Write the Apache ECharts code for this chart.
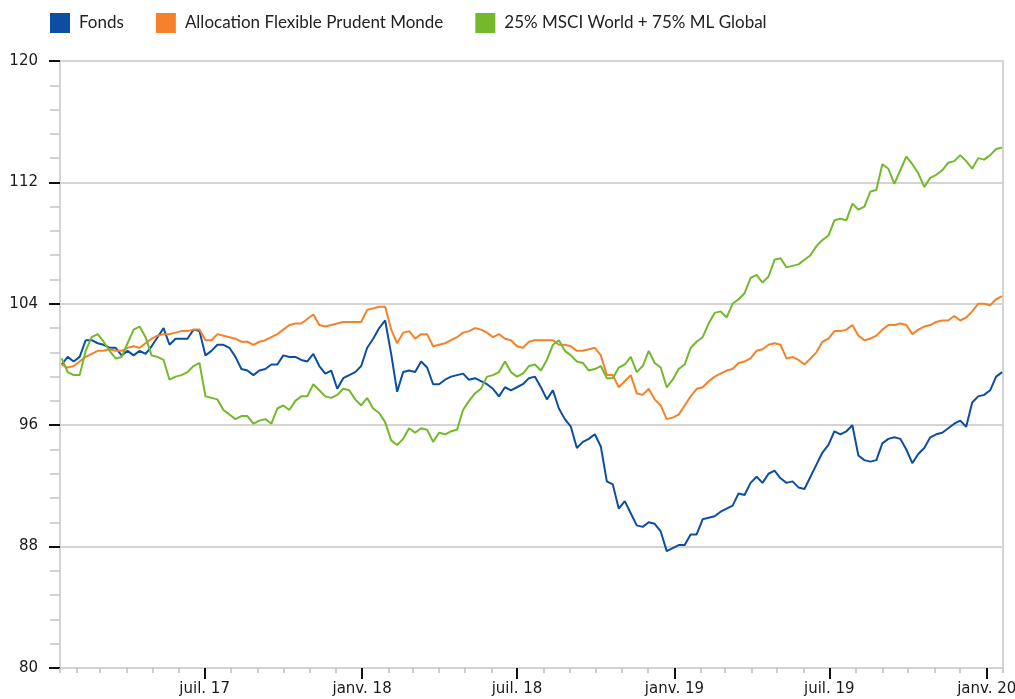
<!DOCTYPE html>
<html>
<head>
<meta charset="utf-8">
<title>Performance</title>
<script src="https://cdn.jsdelivr.net/npm/echarts/dist/echarts.min.js"></script>
<style>
html, body { margin: 0; padding: 0; background: #fff; }
#chart { width: 1015px; height: 699px; }
</style>
</head>
<body>
<div id="chart"></div>
<script>
var seriesNames = ['Fonds', 'Allocation Flexible Prudent Monde', '25% MSCI World + 75% ML Global'];
var seriesColors = ['#0c4ea2', '#f5822a', '#74b82b'];

// une valeur par semaine, a partir du 15/01/2017
var firstDate = '2017-01-15';
var axisStart = '2017-01-13';
var axisEnd = '2020-01-20';

var fondsValues = [
  100.0, 100.5, 100.2, 100.5, 101.6, 101.6, 101.4, 101.3, 101.1, 101.1, 100.6, 100.9, 100.6, 100.9, 100.7, 101.2, 101.8, 102.4, 101.3, 101.7,
  101.7, 101.7, 102.3, 102.2, 100.6, 100.9, 101.3, 101.3, 101.1, 100.5, 99.7, 99.6, 99.3, 99.6, 99.7, 100.0, 100.0, 100.6, 100.5,
  100.5, 100.3, 100.2, 100.7, 99.9, 99.4, 99.6, 98.4, 99.1, 99.3, 99.5, 99.9, 101.1, 101.7, 102.4, 102.9, 100.7, 98.2, 99.5, 99.6,
  99.5, 100.2, 99.8, 98.7, 98.7, 99.0, 99.2, 99.3, 99.4, 99.0, 99.1, 98.9, 98.7, 98.4, 97.9, 98.5, 98.3, 98.5, 98.7, 99.1,
  99.2, 98.5, 97.7, 98.3, 97.1, 96.4, 95.9, 94.5, 94.9, 95.1, 95.4, 94.6, 92.3, 92.1, 90.5, 91.0, 90.2, 89.4, 89.3, 89.6,
  89.5, 89.0, 87.7, 87.9, 88.1, 88.1, 88.8, 88.8, 89.8, 89.9, 90.0, 90.3, 90.5, 90.7, 91.5, 91.4, 92.2, 92.6, 92.2,
  92.8, 93.0, 92.5, 92.2, 92.3, 91.9, 91.8, 92.6, 93.4, 94.2, 94.7, 95.6, 95.4, 95.6, 96.0, 94.0, 93.7, 93.6, 93.7, 94.8,
  95.1, 95.2, 95.1, 94.4, 93.5, 94.1, 94.5, 95.2, 95.4, 95.5, 95.8, 96.1, 96.3, 95.9, 97.5, 97.9, 98.0, 98.3, 99.2, 99.5
];
var allocationValues = [
  100.0, 99.8, 99.9, 100.2, 100.5, 100.7, 100.9, 100.9, 101.0, 100.9, 100.9, 101.1, 101.2, 101.1, 101.4, 101.7, 101.9, 102.0, 102.0, 102.1,
  102.2, 102.2, 102.3, 102.3, 101.6, 101.6, 102.0, 101.9, 101.8, 101.7, 101.5, 101.5, 101.3, 101.5, 101.6, 101.8, 102.0, 102.3, 102.6,
  102.7, 102.7, 103.0, 103.3, 102.6, 102.5, 102.6, 102.7, 102.8, 102.8, 102.8, 102.8, 103.6, 103.7, 103.8, 103.8, 102.3, 101.4, 102.1, 102.2,
  101.7, 102.0, 102.0, 101.2, 101.3, 101.4, 101.6, 101.8, 102.1, 102.2, 102.4, 102.3, 102.1, 101.8, 102.0, 101.7, 101.6, 101.2, 101.1, 101.5,
  101.6, 101.6, 101.6, 101.6, 101.3, 101.3, 101.2, 100.9, 100.9, 101.0, 101.1, 100.6, 99.3, 99.3, 98.5, 98.9, 99.3, 98.1, 98.0, 98.4,
  97.7, 97.3, 96.4, 96.5, 96.7, 97.3, 97.9, 98.4, 98.5, 98.9, 99.2, 99.4, 99.6, 99.7, 100.1, 100.2, 100.4, 100.9, 101.0,
  101.3, 101.4, 101.3, 100.4, 100.5, 100.3, 100.0, 100.4, 100.8, 101.5, 101.7, 102.2, 102.2, 102.3, 102.6, 101.9, 101.6, 101.7, 101.9, 102.3,
  102.6, 102.6, 102.7, 102.6, 102.0, 102.3, 102.5, 102.6, 102.8, 102.9, 102.9, 103.2, 102.9, 103.1, 103.5, 104.0, 104.0, 103.9, 104.3, 104.5
];
var indiceValues = [
  100.4, 99.5, 99.3, 99.3, 100.9, 101.8, 102.0, 101.5, 100.9, 100.4, 100.5, 101.4, 102.3, 102.5, 101.8, 100.6, 100.5, 100.3, 99.0, 99.2,
  99.3, 99.5, 99.9, 100.1, 97.9, 97.8, 97.7, 97.0, 96.7, 96.4, 96.6, 96.6, 96.1, 96.3, 96.4, 96.1, 97.1, 97.3, 97.0,
  97.6, 97.9, 97.9, 98.7, 98.3, 97.9, 97.8, 98.0, 98.4, 98.3, 97.7, 97.3, 97.8, 97.1, 96.8, 96.2, 95.0, 94.7, 95.1, 95.8,
  95.5, 95.8, 95.7, 94.9, 95.5, 95.4, 95.6, 95.7, 97.0, 97.6, 98.1, 98.4, 99.2, 99.3, 99.5, 100.2, 99.5, 99.2, 99.4, 99.9,
  100.0, 99.6, 100.3, 101.3, 101.6, 100.9, 100.6, 100.2, 100.1, 99.6, 99.7, 99.9, 99.1, 99.1, 99.8, 100.0, 100.5, 99.5, 99.9, 100.9,
  100.1, 99.8, 98.5, 99.0, 99.7, 100.0, 101.1, 101.5, 101.8, 102.7, 103.4, 103.5, 103.1, 104.0, 104.3, 104.7, 105.7, 105.9, 105.4,
  105.8, 106.9, 107.0, 106.4, 106.5, 106.6, 106.9, 107.2, 107.8, 108.2, 108.5, 109.5, 109.6, 109.5, 110.6, 110.2, 110.4, 111.4, 111.5, 113.2,
  112.9, 111.9, 112.8, 113.7, 113.2, 112.6, 111.7, 112.3, 112.5, 112.8, 113.3, 113.4, 113.8, 113.4, 112.9, 113.6, 113.5, 113.8, 114.2, 114.3
];

var yMin = 80, yMax = 120, yStep = 8;
var monthNames = ['janv.', 'févr.', 'mars', 'avr.', 'mai', 'juin', 'juil.', 'août', 'sept.', 'oct.', 'nov.', 'déc.'];

function toTime(s) {
	var p = s.split('-');
	return new Date(+p[0], +p[1] - 1, +p[2]).getTime();
}

function buildDates(n) {
	var dates = [];
	var t = toTime(firstDate);
	for (var i = 0; i < n; i++) {
		dates.push(t + i * 7 * 24 * 3600 * 1000);
	}
	return dates;
}

function pairs(dates, values) {
	var out = [];
	for (var i = 0; i < values.length; i++) {
		out.push([dates[i], values[i]]);
	}
	return out;
}

function chartOption() {
	var dates = buildDates(fondsValues.length);
	var allValues = [fondsValues, allocationValues, indiceValues];
	var series = [];
	for (var i = 0; i < seriesNames.length; i++) {
		series.push({
			name: seriesNames[i],
			type: 'line',
			xAxisIndex: 0,
			showSymbol: false,
			symbol: 'none',
			color: seriesColors[i],
			lineStyle: { width: 2, color: seriesColors[i] },
			data: pairs(dates, allValues[i])
		});
	}
	var month = 30 * 24 * 3600 * 1000;
	var halfYear = 365 * 24 * 3600 * 1000 / 2;
	return {
		animation: false,
		backgroundColor: '#ffffff',
		legend: {
			left: 50,
			top: 13,
			padding: 0,
			icon: 'rect',
			itemWidth: 20,
			itemHeight: 20,
			itemGap: 32,
			textStyle: { fontFamily: 'Lato', fontSize: 17, color: '#222222', padding: [0, 0, 0, 4] },
			data: seriesNames
		},
		grid: {
			left: 60,
			right: 12,
			top: 61,
			bottom: 31,
			outerBoundsMode: 'none',
			containLabel: false,
			show: true,
			borderColor: '#d4d4d4',
			borderWidth: 2
		},
		xAxis: [
			{
				// ticks mensuels
				type: 'time',
				min: toTime(axisStart),
				max: toTime(axisEnd),
				minInterval: month,
				maxInterval: month,
				axisLine: { show: true, lineStyle: { color: '#d4d4d4', width: 2 } },
				axisTick: { show: true, length: 5, lineStyle: { color: '#bdbdbd', width: 1.5 } },
				axisLabel: { show: false },
				splitLine: { show: false }
			},
			{
				// janvier / juillet
				type: 'time',
				position: 'bottom',
				min: toTime(axisStart),
				max: toTime(axisEnd),
				minInterval: halfYear,
				maxInterval: halfYear,
				axisLine: { show: false },
				axisTick: { show: true, length: 11, lineStyle: { color: '#111111', width: 2 } },
				axisLabel: {
					margin: 14,
					fontFamily: 'DejaVu Sans',
					fontSize: 15,
					color: '#1a1a1a',
					hideOverlap: false,
					formatter: function (value) {
						var d = new Date(value);
						var m = d.getMonth();
						if (m !== 0 && m !== 6) return '';
						return monthNames[m] + ' ' + String(d.getFullYear()).slice(2);
					}
				},
				splitLine: { show: false }
			}
		],
		yAxis: {
			type: 'value',
			min: yMin,
			max: yMax,
			interval: yStep,
			axisLine: { show: true, lineStyle: { color: '#d4d4d4', width: 2 } },
			axisTick: { show: true, length: 11, lineStyle: { color: '#111111', width: 2 } },
			minorTick: { show: true, splitNumber: 5, length: 10, lineStyle: { color: '#c4c4c4', width: 1.5 } },
			axisLabel: { margin: 22, fontFamily: 'DejaVu Sans', fontSize: 15, color: '#1a1a1a' },
			splitLine: { show: true, lineStyle: { color: '#d4d4d4', width: 2 } }
		},
		series: series
	};
}

var myChart = echarts.init(document.getElementById('chart'));
myChart.setOption(chartOption());
window.addEventListener('resize', function () {
	myChart.resize();
});
</script>
</body>
</html>
